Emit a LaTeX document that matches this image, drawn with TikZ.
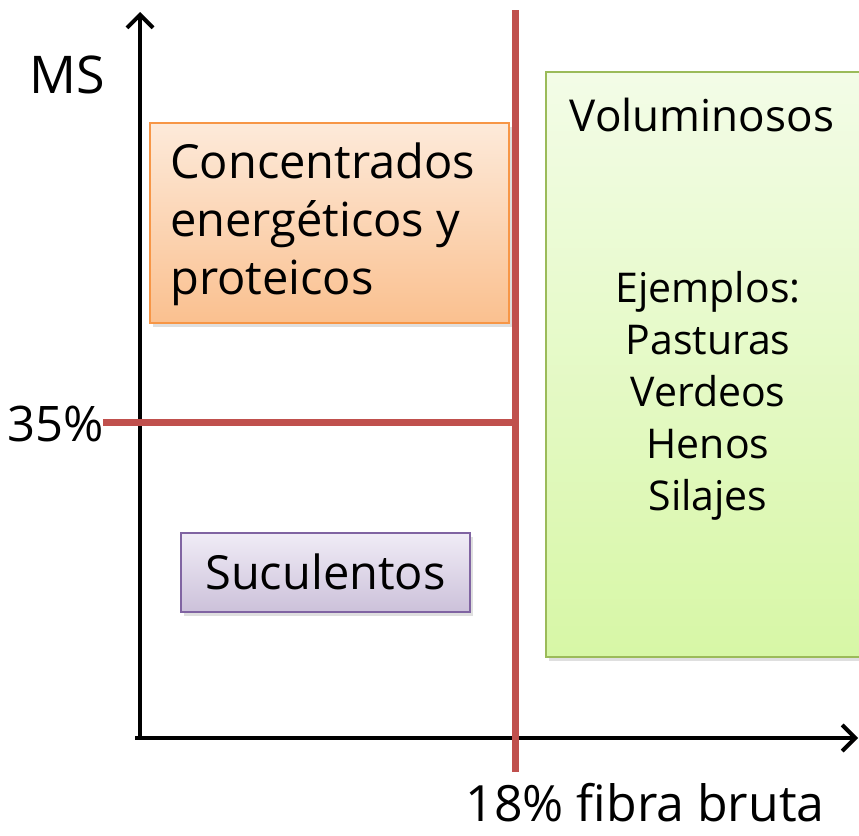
\documentclass[tikz,border=0pt]{standalone}
\usepackage{fontspec}
\setmainfont{Open Sans}
\usetikzlibrary{arrows.meta,shadows}

\definecolor{divred}{HTML}{C0504D}
\definecolor{orangetop}{HTML}{FDEADA}
\definecolor{orangebot}{HTML}{FAC08F}
\definecolor{orangeline}{HTML}{F79646}
\definecolor{greentop}{HTML}{F3FCE7}
\definecolor{greenbot}{HTML}{D7F7A6}
\definecolor{greenline}{HTML}{9BBB59}
\definecolor{violettop}{HTML}{F0ECF6}
\definecolor{violetbot}{HTML}{CCC1DA}
\definecolor{violetline}{HTML}{8064A2}

\begin{document}
\begin{tikzpicture}[x=1pt,y=-1pt,
    axis/.style ={line width=4pt, -{Straight Barb[length=13pt,width=26pt,line width=4pt]}},
    divider/.style ={line width=7pt, divred},
    label/.style ={font=\fontsize{47}{50}\selectfont, inner sep=0pt},
    example/.style ={font=\fontsize{41}{52}\selectfont, align=center, inner sep=0pt},
    group/.style ={draw, line width=1.5pt, minimum width=#1, drop shadow={opacity=0.25, shadow xshift=3pt, shadow yshift=-4pt}}]
   \useasboundingbox (0,0) rectangle (859,835);
   \clip (0,0) rectangle (859,835);
   % the three groups
   \node[group=334pt, minimum height=585pt, greenline, top color=greentop, bottom color=greenbot] (vol) at (713,364.5) {};
   \node[group=359pt, minimum height=200pt, orangeline, top color=orangetop, bottom color=orangebot] (conc) at (329.5,223) {};
   \node[group=289pt, minimum height=79pt, violetline, top color=violettop, bottom color=violetbot] (suc) at (325.5,572.5) {};
   \node[label, align=left, font=\fontsize{47}{58}\selectfont, anchor=west] (conctext) at (170,224) {Concentrados\\energ\'eticos y\\proteicos};
   \node[label] (suctext) at (325.5,572) {Suculentos};
   \node[label, font=\fontsize{44}{50}\selectfont] (voltext) at (702,115) {Voluminosos};
   \node[example] (ejemplos) at (708,396) {Ejemplos:\\Pasturas\\Verdeos\\Henos\\Silajes};
   % axes
   \coordinate (O) at (140,738);
   \coordinate (ytop) at (140,12);
   \coordinate (xend) at (858,738);
   \coordinate (xstart) at (135,738);
   \draw[axis] (O) -- (ytop);
   \draw[axis] (xstart) -- (xend);
   % limits
   \coordinate (fbtop) at (515,10);
   \coordinate (fbbot) at (515,772);
   \coordinate (msleft) at (103,422);
   \coordinate (msright) at (515,422);
   \draw[divider] (fbtop) -- (fbbot);
   \draw[divider] (msleft) -- (msright);
   \node[label, font=\fontsize{52}{55}\selectfont] (ms) at (67,75) {MS};
   \node[label, font=\fontsize{49}{55}\selectfont, anchor=east] (p35) at (104,424) {35\%};
   \node[label, font=\fontsize{50}{55}\selectfont] (fibra) at (645,803) {18\% fibra bruta};
 \end{tikzpicture}
\end{document}
